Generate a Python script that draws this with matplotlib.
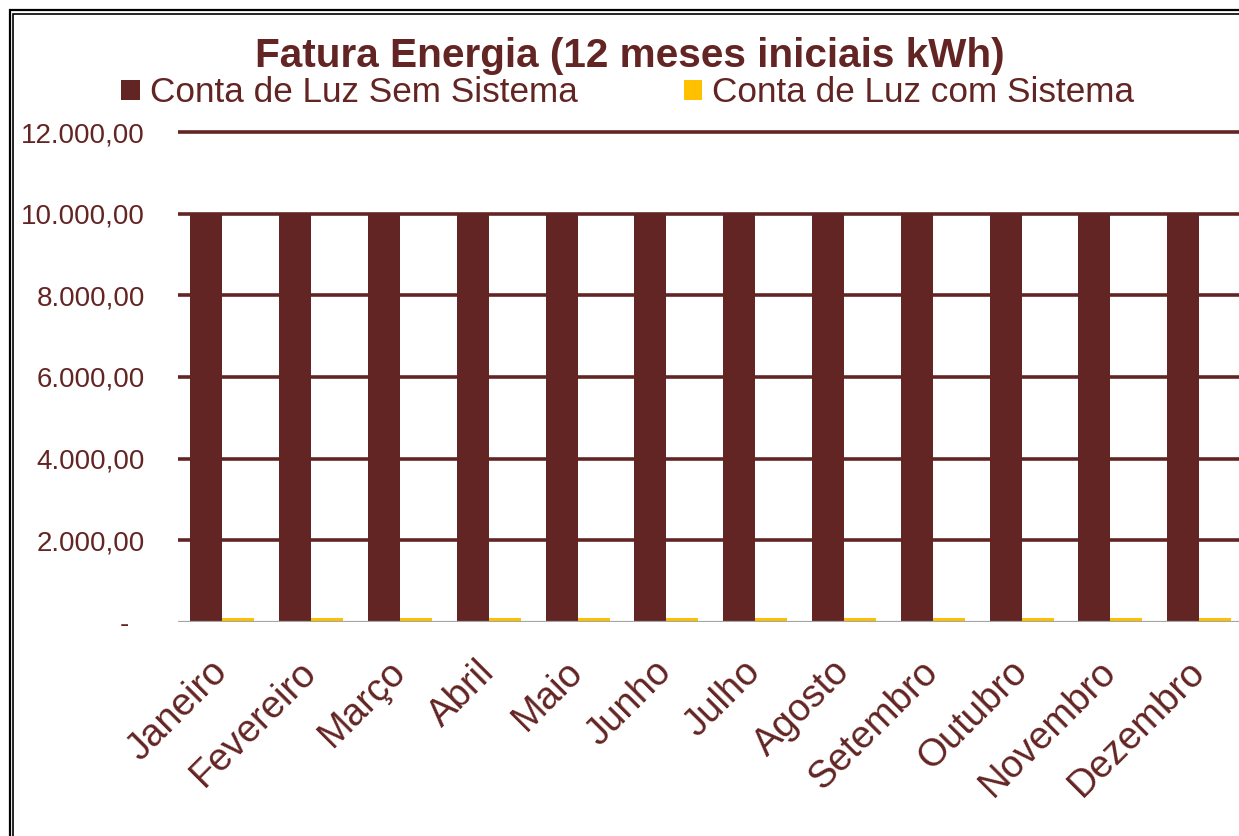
#!/usr/bin/env python3

from matplotlib import pyplot as plt
from matplotlib.patches import Rectangle
from matplotlib.ticker import FuncFormatter
import numpy as np


MONTHS = [
    "Janeiro", "Fevereiro", "Março", "Abril", "Maio", "Junho",
    "Julho", "Agosto", "Setembro", "Outubro", "Novembro", "Dezembro",
]
SEM_SISTEMA = [10000, 10000, 10000, 10000, 10000, 10000,
               10000, 10000, 10000, 10000, 10000, 10000]
COM_SISTEMA = [100, 100, 100, 100, 100, 100,
               100, 100, 100, 100, 100, 100]

BROWN = "#632523"
YELLOW = "#FFC000"


def fmt_value(v, pos):
    # excel accounting style: dash for zero, pt-BR separators
    if v == 0:
        return "-  "
    s = "{:,.2f}".format(v)
    return s.replace(",", "X").replace(".", ",").replace("X", ".")


def main():
    plt.rcParams["font.family"] = ["Liberation Sans", "DejaVu Sans"]

    fig = plt.figure(figsize=(12.39, 8.36), dpi=100)
    W, H = 1239, 836

    # double frame, cut off at right and bottom like the source
    for off, lw in ((10, 1.6), (13.5, 1.2)):
        fig.patches.append(Rectangle(
            (off / W, -0.1), 1.2, 1 - off / H + 0.1,
            transform=fig.transFigure, fill=False,
            edgecolor="black", linewidth=lw))

    left = 178 / W
    right = 1243.6 / W
    bottom = (H - 622) / H
    top = (H - 132) / H
    ax = fig.add_axes([left, bottom, right - left, top - bottom])

    x = np.arange(len(MONTHS))
    w = 0.36
    ax.bar(x - w / 2, SEM_SISTEMA, w, color=BROWN, label="Conta de Luz Sem Sistema", zorder=3)
    ax.bar(x + w / 2, COM_SISTEMA, w, color=YELLOW, label="Conta de Luz com Sistema", zorder=3)

    ax.set_xlim(-0.5, len(MONTHS) - 0.5)
    ax.set_ylim(0, 12000)
    ax.set_yticks(np.arange(0, 12001, 2000))
    ax.yaxis.set_major_formatter(FuncFormatter(fmt_value))

    for s in ax.spines.values():
        s.set_visible(False)
    ax.grid(axis="y", color=BROWN, linewidth=2.6, zorder=0)
    for i, gl in enumerate(ax.get_ygridlines()):
        gl.set_clip_on(False)
        gl.set_solid_capstyle("butt")
        if i == 0:
            gl.set_visible(False)
    ax.axhline(0, color="#A6A6A6", linewidth=1.6, zorder=4)

    ax.tick_params(axis="y", length=0, pad=24, labelsize=20, labelcolor=BROWN)
    ax.tick_params(axis="x", length=0, pad=32, labelsize=27.5, labelcolor=BROWN)
    ax.set_xticks(x)
    ax.set_xticklabels(MONTHS, rotation=45, ha="right", va="center",
                       rotation_mode="anchor")

    fig.text(630 / W, 1 - 56 / H, "Fatura Energia (12 meses iniciais kWh)",
             ha="center", va="center", fontsize=29.2, fontweight="bold",
             color=BROWN)

    leg = fig.legend(loc="center", bbox_to_anchor=(628 / W, 1 - 93 / H),
                     ncol=2, frameon=False, fontsize=25.3,
                     handlelength=0.52, handleheight=0.52,
                     handletextpad=0.3, columnspacing=3.0,
                     borderpad=0, borderaxespad=0)
    for t in leg.get_texts():
        t.set_color(BROWN)

    fig.savefig("out.png", dpi=100)


if __name__ == "__main__":
    main()
